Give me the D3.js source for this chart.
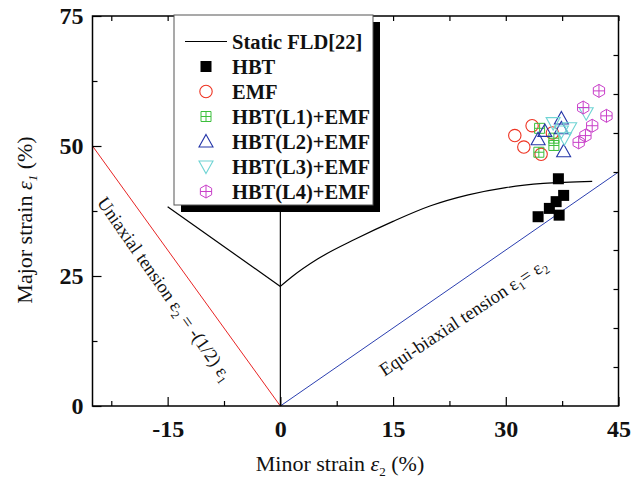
<!DOCTYPE html>
<html>
<head>
<meta charset="utf-8">
<script src="https://cdn.jsdelivr.net/npm/d3@7"></script>
<style>
  body { margin: 0; background: #fff; }
  svg { display: block; }
  text { font-family: "Liberation Serif", "Times New Roman", serif; fill: #111; }
</style>
</head>
<body>
<svg id="chart" width="642" height="483"></svg>
<script>
// static forming limit curve, [minor, major] in %
const fldLeft = [[-15, 38.3], [0, 23]];
const fldRight = [[0, 23], [1.5, 24.8], [5, 28.3], [10, 32.1], [15, 35.5], [20, 38.5], [25, 40.6], [30, 42.0], [35, 42.8], [41.5, 43.2]];

// measured limit strains, [minor, major] in %
const hbt = [[37, 43.7], [37.7, 40.5], [36.7, 39.3], [35.8, 38.0], [34.3, 36.4], [37.1, 36.7]];
const emf = [[31.2, 52.0], [33.5, 53.9], [32.4, 49.8], [34.7, 48.4], [36.2, 52.5]];
const hbtL1 = [[34.5, 53.4], [34.4, 48.8], [36.4, 50.1], [36.4, 51.5]];
const hbtL2 = [[34.3, 51.3], [35.2, 52.9], [37.4, 55.3], [37.4, 53.4], [37.7, 49.0]];
const hbtL3 = [[36.3, 54.4], [38.5, 53.4], [37.4, 52.8], [40.7, 56.3], [37.8, 51.5]];
const hbtL4 = [[42.4, 60.6], [40.3, 57.4], [43.4, 55.8], [41.5, 53.9], [40.6, 52.0], [39.7, 50.7]];

const xTicks = [-15, 0, 15, 30, 45];
const xMinor = [-22.5, -7.5, 7.5, 22.5, 37.5];
const yTicks = [0, 25, 50, 75];
const yMinor = [12.5, 37.5, 62.5];
const yRight = d3.range(7.5, 75, 7.5);

const legendNames = ['Static FLD[22]', 'HBT', 'EMF', 'HBT(L1)+EMF', 'HBT(L2)+EMF', 'HBT(L3)+EMF', 'HBT(L4)+EMF'];

const svg = d3.select('#chart');
const plotL = 92.5, plotR = 618.5, plotT = 16, plotB = 406;

const x = d3.scaleLinear().domain([-25, 45]).range([plotL, plotR]);
const y = d3.scaleLinear().domain([0, 75]).range([plotB, plotT]);

// reference lines
svg.append('line')
    .attr('x1', x(-25)).attr('y1', y(50))
    .attr('x2', x(0)).attr('y2', y(0))
    .attr('stroke', '#e82424').attr('stroke-width', 1);
svg.append('line')
    .attr('x1', x(0)).attr('y1', y(0))
    .attr('x2', x(45)).attr('y2', y(45))
    .attr('stroke', '#2b3fb0').attr('stroke-width', 1);
svg.append('line')
    .attr('x1', x(0)).attr('y1', y(0))
    .attr('x2', x(0)).attr('y2', y(75))
    .attr('stroke', '#000').attr('stroke-width', 1.2);

const line = d3.line().x(d => x(d[0])).y(d => y(d[1]));
svg.append('path').attr('d', line(fldLeft))
    .attr('fill', 'none').attr('stroke', '#000').attr('stroke-width', 1.2);
svg.append('path').attr('d', line.curve(d3.curveMonotoneX)(fldRight))
    .attr('fill', 'none').attr('stroke', '#000').attr('stroke-width', 1.2);

// annotations
const uni = svg.append('text')
    .attr('transform', 'translate(165,289) rotate(55)')
    .attr('text-anchor', 'middle').attr('dy', '0.35em')
    .style('font-size', '18.5px');
uni.append('tspan').text('Uniaxial tension ε');
uni.append('tspan').attr('dy', 4).style('font-size', '12px').text('2');
uni.append('tspan').attr('dy', -4).text(' = -(1/2) ε');
uni.append('tspan').attr('dy', 4).style('font-size', '12px').text('1');

const equi = svg.append('text')
    .attr('transform', 'translate(463,317) rotate(-33.5)')
    .attr('text-anchor', 'middle').attr('dy', '0.35em')
    .style('font-size', '18.5px');
equi.append('tspan').text('Equi-biaxial tension ε');
equi.append('tspan').attr('dy', 4).style('font-size', '12px').text('1');
equi.append('tspan').attr('dy', -4).text('= ε');
equi.append('tspan').attr('dy', 4).style('font-size', '12px').text('2');

// markers
function marker(g, kind) {
    if (kind === 'square') {
        g.append('rect').attr('x', -5.5).attr('y', -5.5).attr('width', 11).attr('height', 11)
            .attr('fill', '#000');
    } else if (kind === 'circle') {
        g.append('circle').attr('r', 6.2).attr('fill', 'none')
            .attr('stroke', '#ee3322').attr('stroke-width', 1.1);
    } else if (kind === 'boxcross') {
        g.append('path').attr('d', 'M-5,-5H5V5H-5Z M0,-5V5 M-5,0H5')
            .attr('fill', 'none').attr('stroke', '#3cbf3c').attr('stroke-width', 1);
    } else if (kind === 'up') {
        g.append('path').attr('d', 'M0,-7L7,5.5H-7Z')
            .attr('fill', 'none').attr('stroke', '#2536a8').attr('stroke-width', 1.1);
    } else if (kind === 'down') {
        g.append('path').attr('d', 'M0,7L7,-5.5H-7Z')
            .attr('fill', 'none').attr('stroke', '#6fd4d4').attr('stroke-width', 1.1);
    } else if (kind === 'hex') {
        const r = 6.5;
        const pts = d3.range(6).map(i => {
            const a = Math.PI / 3 * i - Math.PI / 2;
            return [r * Math.cos(a), r * Math.sin(a)];
        });
        g.append('path').attr('d', 'M' + pts.join('L') + 'Z M0,-6.5V6.5 M-5.6,0H5.6')
            .attr('fill', 'none').attr('stroke', '#c93fc9').attr('stroke-width', 1);
    }
}

const series = [
    [hbt, 'square'], [emf, 'circle'], [hbtL1, 'boxcross'],
    [hbtL2, 'up'], [hbtL3, 'down'], [hbtL4, 'hex']
];
series.forEach(([data, kind]) => {
    svg.append('g').selectAll('g')
        .data(data)
        .enter().append('g')
        .attr('transform', d => `translate(${x(d[0])},${y(d[1])})`)
        .each(function() { marker(d3.select(this), kind); });
});

// axes
function styleAxis(g) {
    g.select('.domain').remove();
    g.selectAll('line').attr('stroke', '#000').attr('stroke-width', 1.2);
    g.selectAll('text')
        .style('font-size', '24px').style('font-weight', 'bold')
        .style('font-family', '"Liberation Serif", "Times New Roman", serif')
        .attr('fill', '#111');
}
const plain = d => String(d);

svg.append('g').attr('transform', `translate(0,${plotB})`)
    .call(d3.axisBottom(x).tickValues(xTicks).tickSize(-9).tickPadding(14).tickFormat(plain))
    .call(styleAxis);
svg.append('g').attr('transform', `translate(0,${plotB})`)
    .call(d3.axisBottom(x).tickValues(xMinor).tickSize(-5).tickFormat(''))
    .call(styleAxis);
svg.append('g').attr('transform', `translate(0,${plotT})`)
    .call(d3.axisTop(x).tickValues(xTicks.concat(xMinor)).tickSize(-5).tickFormat(''))
    .call(styleAxis);
svg.append('g').attr('transform', `translate(${plotL},0)`)
    .call(d3.axisLeft(y).tickValues(yTicks).tickSize(-9).tickPadding(9).tickFormat(plain))
    .call(styleAxis);
svg.append('g').attr('transform', `translate(${plotL},0)`)
    .call(d3.axisLeft(y).tickValues(yMinor).tickSize(-5).tickFormat(''))
    .call(styleAxis);
svg.append('g').attr('transform', `translate(${plotR},0)`)
    .call(d3.axisRight(y).tickValues(yRight).tickSize(-5).tickFormat(''))
    .call(styleAxis);

svg.append('rect')
    .attr('x', plotL).attr('y', plotT)
    .attr('width', plotR - plotL).attr('height', plotB - plotT)
    .attr('fill', 'none').attr('stroke', '#000').attr('stroke-width', 1.5);

// axis titles
const xt = svg.append('text')
    .attr('x', 340).attr('y', 471)
    .attr('text-anchor', 'middle')
    .style('font-size', '22px');
xt.append('tspan').text('Minor strain ');
xt.append('tspan').style('font-style', 'italic').text('ε');
xt.append('tspan').attr('dy', 5).style('font-size', '13px').text('2');
xt.append('tspan').attr('dy', -5).text(' (%)');

const yt = svg.append('text')
    .attr('transform', 'translate(32,220) rotate(-90)')
    .attr('text-anchor', 'middle')
    .style('font-size', '22px');
yt.append('tspan').text('Major strain ');
yt.append('tspan').style('font-style', 'italic').text('ε');
yt.append('tspan').attr('dy', 5).style('font-size', '13px').style('font-style', 'italic').text('1');
yt.append('tspan').attr('dy', -5).text(' (%)');

// legend
const lg = svg.append('g');
lg.append('rect').attr('x', 181).attr('y', 22).attr('width', 199).attr('height', 190).attr('fill', '#000');
lg.append('rect').attr('x', 174).attr('y', 15).attr('width', 199).attr('height', 190)
    .attr('fill', '#fff').attr('stroke', '#555').attr('stroke-width', 1);

const kinds = ['line'].concat(series.map(s => s[1]));
legendNames.forEach((name, i) => {
    const row = lg.append('g').attr('transform', `translate(0,${41.5 + i * 25})`);
    if (kinds[i] === 'line') {
        row.append('line').attr('x1', 185).attr('x2', 227)
            .attr('stroke', '#000').attr('stroke-width', 1.2);
    } else {
        marker(row.append('g').attr('transform', 'translate(206,0)'), kinds[i]);
    }
    row.append('text').attr('x', 232).attr('dy', '0.35em')
        .style('font-size', '20.5px').style('font-weight', 'bold')
        .text(name);
});
</script>
</body>
</html>
